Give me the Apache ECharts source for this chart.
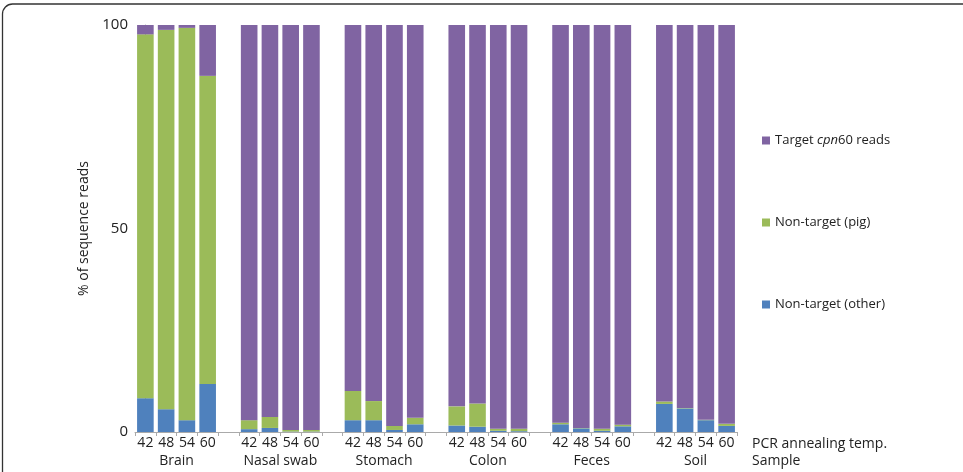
<!DOCTYPE html>
<html>
<head>
<meta charset="utf-8">
<script src="https://cdn.jsdelivr.net/npm/echarts@6/dist/echarts.min.js"></script>
<style>
  html, body { margin: 0; padding: 0; background: #fff; }
  #chart { width: 963px; height: 472px; }
</style>
</head>
<body>
<div id="chart"></div>
<script>
// samples and annealing temperatures; an empty slot sits between groups
const samples = ["Brain", "Nasal swab", "Stomach", "Colon", "Feces", "Soil"];
const temps = ["42", "48", "54", "60"];

// % of reads per bar, in the order 42/48/54/60 for each sample
const otherReads = [
  8.3, 5.6, 2.9, 11.8,   // Brain
  0.7, 1.0, 0.1, 0.1,    // Nasal swab
  2.9, 2.9, 0.5, 1.9,    // Stomach
  1.6, 1.3, 0.3, 0.2,    // Colon
  1.9, 0.9, 0.3, 1.4,    // Feces
  6.9, 5.8, 2.9, 1.5     // Soil
];
const pigReads = [
  89.4, 93.2, 96.4, 75.7,
  2.2, 2.7, 0.4, 0.4,
  7.2, 4.7, 1.0, 1.6,
  4.7, 5.7, 0.5, 0.6,
  0.4, 0.1, 0.5, 0.4,
  0.6, 0.1, 0.1, 0.5
];
const targetReads = otherReads.map((v, i) => +(100 - v - pigReads[i]).toFixed(1));

const FONT = "Open Sans";

// build 29 category slots: 4 bars per sample + 1 blank slot between samples
const categories = [];
const slotOther = [], slotPig = [], slotTarget = [];
const groupCenters = [];
samples.forEach((s, g) => {
  if (g > 0) {
    categories.push("");
    slotOther.push(null); slotPig.push(null); slotTarget.push(null);
  }
  groupCenters.push(categories.length + 1.5);
  temps.forEach((t, k) => {
    const i = g * 4 + k;
    categories.push(t);
    slotOther.push(otherReads[i]);
    slotPig.push(pigReads[i]);
    slotTarget.push(targetReads[i]);
  });
});

const chart = echarts.init(document.getElementById("chart"));

const barStyle = { stack: "reads", type: "bar", barCategoryGap: "20%", xAxisIndex: 0 };

chart.setOption({
  animation: false,
  textStyle: { fontFamily: FONT },
  graphic: [{
    type: "rect",
    shape: { x: 2.5, y: 4, width: 975, height: 500, r: 10 },
    style: { fill: "none", stroke: "#333", lineWidth: 1.3 },
    silent: true
  }, {
    // axis captions at the right end of the two label rows
    type: "text",
    left: 752,
    top: 437,
    style: { text: "PCR annealing temp.", font: "14px " + FONT, fill: "#222" },
    silent: true
  }, {
    type: "text",
    left: 752,
    top: 454,
    style: { text: "Sample", font: "14px " + FONT, fill: "#222" },
    silent: true
  }],
  grid: { left: 135, right: 226, top: 25, bottom: 40 },
  legend: {
    orient: "vertical",
    left: 757,
    top: 129,
    itemWidth: 8,
    itemHeight: 8,
    itemGap: 69,
    icon: "rect",
    data: ["Target cpn60 reads", "Non-target (pig)", "Non-target (other)"],
    formatter: name => name === "Target cpn60 reads" ? "Target {i|cpn}60 reads" : name,
    textStyle: {
      fontFamily: FONT, fontSize: 13, color: "#222",
      rich: { i: { fontStyle: "italic", fontFamily: FONT, fontSize: 13, color: "#222" } }
    }
  },
  xAxis: [{
    type: "category",
    position: "bottom",
    data: categories,
    axisLine: { lineStyle: { color: "#aaa" } },
    axisTick: { show: true, length: 4, interval: 0, lineStyle: { color: "#aaa" } },
    axisLabel: { interval: 0, margin: 4, fontSize: 14, color: "#222", fontFamily: FONT }
  }, {
    type: "value",
    position: "bottom",
    min: -0.5,
    max: 28.5,
    axisLine: { show: false },
    axisTick: { show: false },
    splitLine: { show: false },
    axisLabel: {
      customValues: groupCenters,
      margin: 22,
      fontSize: 14,
      color: "#222",
      fontFamily: FONT,
      formatter: v => samples[groupCenters.indexOf(v)] || ""
    }
  }],
  yAxis: {
    type: "value",
    min: 0,
    max: 100,
    interval: 10,
    name: "% of sequence reads",
    nameLocation: "middle",
    nameGap: 44,
    nameTextStyle: { fontFamily: FONT, fontSize: 14, color: "#222" },
    axisLine: { show: true, lineStyle: { color: "#aaa" } },
    axisTick: { show: true, length: 4, lineStyle: { color: "#aaa" } },
    splitLine: { show: false },
    axisLabel: {
      margin: 7, fontSize: 15, color: "#222", fontFamily: FONT,
      formatter: v => (v % 50 === 0 ? String(v) : "")
    }
  },
  series: [
    Object.assign({ name: "Non-target (other)", data: slotOther, itemStyle: { color: "#4F81BD" } }, barStyle),
    Object.assign({ name: "Non-target (pig)", data: slotPig, itemStyle: { color: "#9BBB59" } }, barStyle),
    Object.assign({ name: "Target cpn60 reads", data: slotTarget, itemStyle: { color: "#8064A2" } }, barStyle)
  ]
});
</script>
</body>
</html>
